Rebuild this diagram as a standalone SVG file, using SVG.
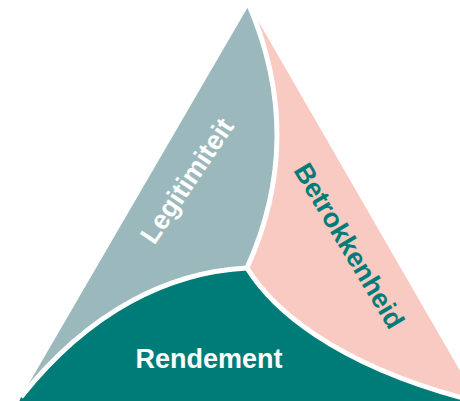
<svg xmlns="http://www.w3.org/2000/svg" width="460" height="401" viewBox="0 0 460 401">
<style>
.lbl{font-family:"Liberation Sans",Arial,sans-serif;font-weight:bold;font-size:27px;text-anchor:middle}
.gap{fill:none;stroke:#fff;stroke-width:5}
</style>
<rect width="460" height="401" fill="#fff"/>
<g id="legitimiteit">
<path d="M249,5 L21,397 C90,310 170,272 247,268 Q306,138 249,5 Z" fill="#9BB9BC"/>
<text class="lbl" fill="#fff" transform="translate(187,181) rotate(-56)" y="9">Legitimiteit</text>
</g>
<g id="rendement">
<path d="M21,397 C90,310 170,272 247,268 C270,305 330,365 478,402 L478,410 L16,410 Z" fill="#007C78"/>
<text class="lbl" fill="#fff" x="209" y="368">Rendement</text>
</g>
<g id="betrokkenheid">
<path d="M249,5 Q306,138 247,268 C270,305 330,365 478,402 Z" fill="#F8CAC1"/>
<text class="lbl" fill="#007C78" transform="translate(349,246) rotate(59)" y="9">Betrokkenheid</text>
</g>
<g id="connectors">
<path class="gap" d="M249,5 Q306,138 247,268"/>
<path class="gap" d="M247,268 C170,272 90,310 21,397"/>
<path class="gap" d="M247,268 C270,305 330,365 478,402"/>
</g>
</svg>
